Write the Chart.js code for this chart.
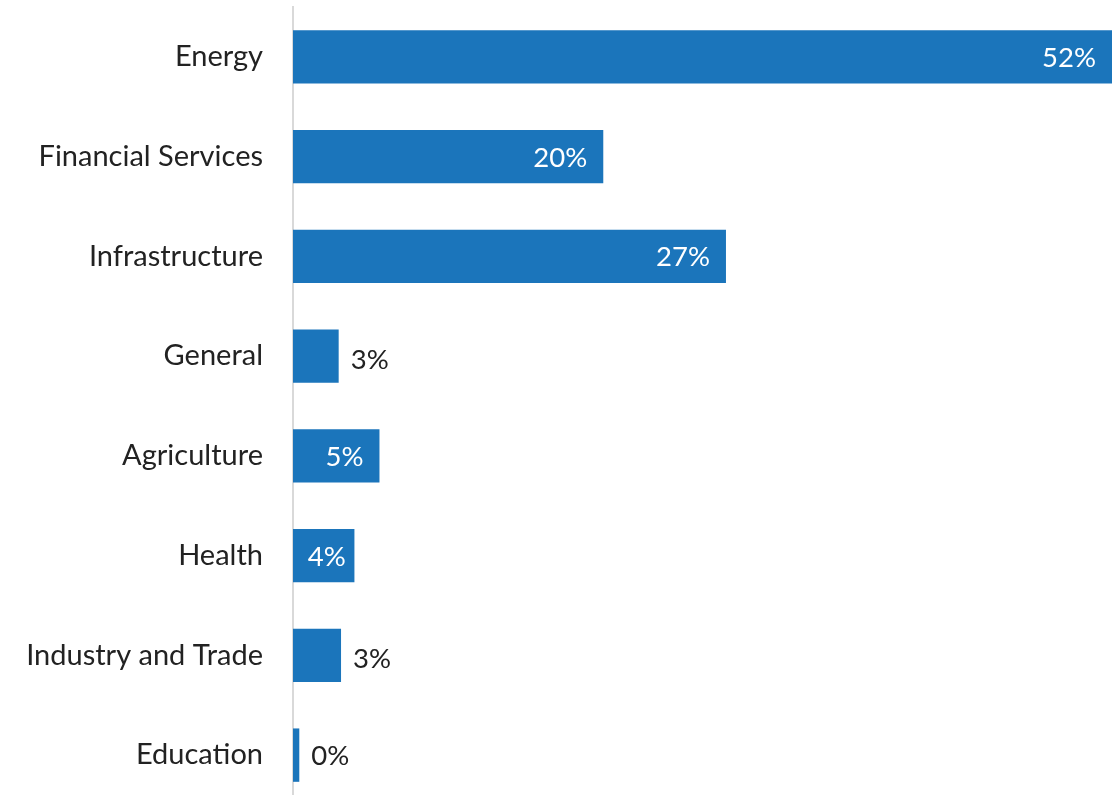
<!DOCTYPE html>
<html>
<head>
<meta charset="utf-8">
<script src="https://cdn.jsdelivr.net/npm/chart.js@4"></script>
<style>
html,body{margin:0;padding:0;background:#fff;overflow:hidden;}
#wrap{width:1112px;height:805px;position:relative;}
</style>
</head>
<body>
<div id="wrap"><canvas id="c"></canvas></div>
<script>
const categories = ["Energy","Financial Services","Infrastructure","General","Agriculture","Health","Industry and Trade","Education"];
const shares = [52, 19.7, 27.49, 2.9, 5.49, 3.9, 3.05, 0.4];
const labelInside = [true, true, true, false, true, true, false, false];

const FONT = "Lato, 'Open Sans', sans-serif";
const BAR = "#1b75bb";
const TEXT = "#222222";

const valueLabels = {
  id: 'valueLabels',
  afterDatasetsDraw(chart) {
    const ctx = chart.ctx;
    const meta = chart.getDatasetMeta(0);
    ctx.save();
    ctx.font = "27.5px " + FONT;
    ctx.textBaseline = 'middle';
    meta.data.forEach((bar, i) => {
      const txt = Math.round(shares[i]) + '%';
      const w = ctx.measureText(txt).width;
      const start = bar.base, end = bar.x;
      if (labelInside[i]) {
        ctx.fillStyle = '#ffffff';
        ctx.textAlign = 'left';
        let x;
        if (end - start < 2 * w) x = (start + end) / 2 - w / 2 + 3;
        else x = end - 16 - w;
        ctx.fillText(txt, x, bar.y + 1);
      } else {
        ctx.fillStyle = TEXT;
        ctx.textAlign = 'left';
        ctx.fillText(txt, end + 12, bar.y + (end - start > 20 ? 4 : 1));
      }
    });
    ctx.restore();
  }
};

new Chart(document.getElementById('c'), {
  type: 'bar',
  data: {
    labels: categories,
    datasets: [{
      data: shares,
      backgroundColor: BAR,
      borderWidth: 0,
      barPercentage: 0.535,
      categoryPercentage: 1.0
    }]
  },
  options: {
    indexAxis: 'y',
    responsive: true,
    maintainAspectRatio: false,
    animation: false,
    layout: { padding: { top: 7, right: 0, bottom: 0, left: 0 } },
    plugins: { legend: { display: false }, tooltip: { enabled: false } },
    scales: {
      x: { display: false, min: 0, max: 52 },
      y: {
        afterFit(scale) { scale.width = 293; scale.paddingTop = 0; scale.paddingBottom = 0; },
        grid: { display: false, drawTicks: false },
        border: { display: true, color: '#d9d9d9', width: 2 },
        ticks: { color: TEXT, padding: 30, font: { family: FONT, size: 29 } }
      }
    }
  },
  plugins: [valueLabels]
});
</script>
</body>
</html>
